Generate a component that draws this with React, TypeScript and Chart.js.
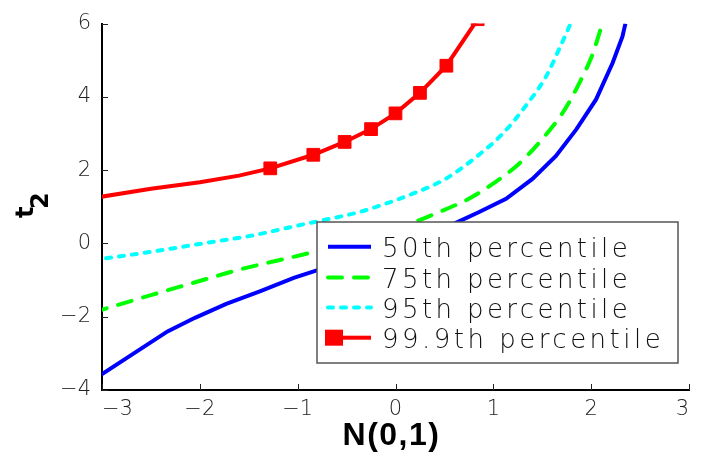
import React, { useEffect, useRef } from 'react';
import { Chart, registerables } from 'chart.js';

Chart.register(...registerables);

// ---- data ----
const seriesLabels = ['50th percentile', '75th percentile', '95th percentile', '99.9th percentile'];

const x50 = [-3.09, -2.33, -2.05, -1.73, -1.38, -1.04, -0.82, -0.5, 0, 0.3, 0.6, 0.85, 1.13, 1.4, 1.64, 1.85, 2.05, 2.22, 2.32, 2.35];
const y50 = [-3.72, -2.4, -2.03, -1.65, -1.3, -0.94, -0.75, -0.47, -0.05, 0.22, 0.54, 0.85, 1.22, 1.76, 2.39, 3.12, 3.93, 4.93, 5.65, 6.0];

const x75 = [-3.09, -2.5, -2.02, -1.62, -0.91, -0.4, 0.15, 0.44, 0.75, 0.99, 1.26, 1.5, 1.71, 1.88, 2.02, 2.1, 2.12];
const y75 = [-1.88, -1.41, -1.04, -0.73, -0.28, 0.08, 0.54, 0.85, 1.22, 1.62, 2.17, 2.85, 3.57, 4.38, 5.2, 5.87, 6.0];

const x95 = [-3.09, -2.5, -1.97, -1.5, -0.91, -0.38, -0.14, 0.17, 0.51, 0.82, 1.09, 1.33, 1.54, 1.67, 1.78, 1.79];
const y95 = [-0.45, -0.23, 0.0, 0.2, 0.54, 0.85, 1.05, 1.35, 1.76, 2.35, 2.98, 3.75, 4.56, 5.29, 5.94, 6.0];

const x999 = [-3.09, -2.5, -2.0, -1.6, -1.28, -0.84, -0.52, -0.25, 0, 0.25, 0.52, 0.84];
const y999 = [1.24, 1.49, 1.67, 1.85, 2.05, 2.42, 2.77, 3.12, 3.55, 4.11, 4.85, 6.12];
const marker999 = [false, false, false, false, true, true, true, true, true, true, true, true];

const xTickValues = [-3, -2, -1, 0, 1, 2, 3];
const yTickValues = [-4, -2, 0, 2, 4, 6];

const xTitle = 'N(0,1)';
const yTitleMain = 't';
const yTitleSub = '2';

const zip = (xs: number[], ys: number[]) => xs.map((x, i) => ({ x, y: ys[i] }));
const fmt = (v: number) => (v < 0 ? '\u2212' + Math.abs(v) : String(v));

const TICK_FONT = { family: 'DejaVu Sans', size: 21, weight: 200 as any };

const decorPlugin = {
  id: 'decor',
  afterDatasetsDraw(chart: any) {
    const { ctx, chartArea } = chart;
    // legend box
    const bx = chartArea.right - 372;
    const by = chartArea.bottom - 168;
    const bw = 361;
    const bh = 141;
    ctx.save();
    ctx.fillStyle = '#ffffff';
    ctx.fillRect(bx, by, bw, bh);
    ctx.strokeStyle = '#555555';
    ctx.lineWidth = 1.5;
    ctx.strokeRect(bx, by, bw, bh);
    const rows = [24.7, 55.5, 85.5, 115.7];
    chart.data.datasets.forEach((ds: any, i: number) => {
      const ry = by + rows[i];
      const lx0 = bx + 11;
      const lx1 = bx + 54;
      ctx.save();
      ctx.strokeStyle = ds.borderColor;
      ctx.lineWidth = ds.borderWidth;
      ctx.lineCap = ds.borderCapStyle || 'butt';
      ctx.setLineDash(ds.borderDash || []);
      ctx.beginPath();
      if (ds.pointStyle === 'rect') {
        ctx.moveTo(lx0 + 14, ry);
      } else {
        ctx.moveTo(lx0, ry);
      }
      ctx.lineTo(lx1, ry);
      ctx.stroke();
      if (ds.pointStyle === 'rect') {
        ctx.fillStyle = ds.borderColor;
        ctx.fillRect(lx0 - 3, ry - 8, 18, 16);
      }
      ctx.restore();
      // text
      ctx.save();
      ctx.font = '200 26px "DejaVu Sans"';
      ctx.fillStyle = '#111';
      ctx.textBaseline = 'alphabetic';
      ctx.textAlign = 'left';
      const label = ds.label as string;
      const w = ctx.measureText(label).width;
      const target = 16.6 * label.length;
      const sp = (target - w) / label.length;
      (ctx as any).letterSpacing = sp.toFixed(2) + 'px';
      ctx.fillText(label, bx + 65, ry + 10);
      ctx.restore();
    });
    ctx.restore();
  },
  afterDraw(chart: any) {
    const { ctx, chartArea, scales } = chart;
    ctx.save();
    // inward tick marks
    ctx.strokeStyle = '#222';
    ctx.lineWidth = 1;
    ctx.beginPath();
    scales.x.ticks.forEach((t: any) => {
      const px = Math.round(scales.x.getPixelForValue(t.value)) + 0.5;
      ctx.moveTo(px, chartArea.bottom);
      ctx.lineTo(px, chartArea.bottom - 6);
    });
    scales.y.ticks.forEach((t: any) => {
      const py = Math.round(scales.y.getPixelForValue(t.value)) + 0.5;
      ctx.moveTo(chartArea.left, py);
      ctx.lineTo(chartArea.left + 6, py);
    });
    ctx.stroke();
    // x title
    ctx.fillStyle = '#000';
    ctx.font = 'bold 32px "Liberation Sans"';
    (ctx as any).letterSpacing = '1.5px';
    ctx.textAlign = 'center';
    ctx.textBaseline = 'alphabetic';
    ctx.fillText(xTitle, (chartArea.left + chartArea.right) / 2 - 4, chartArea.bottom + 55);
    // y title
    (ctx as any).letterSpacing = '0px';
    ctx.translate(33, 218);
    ctx.rotate(-Math.PI / 2);
    ctx.textAlign = 'left';
    ctx.font = 'bold 24px "DejaVu Sans"';
    ctx.fillText(yTitleMain, 0, 0);
    ctx.fillText(yTitleSub, 9, 15);
    ctx.restore();
  },
};

export default function App() {
  const ref = useRef<HTMLCanvasElement | null>(null);
  useEffect(() => {
    document.body.style.margin = '0';
    const canvas = ref.current!;
    const chart = new Chart(canvas, {
      type: 'line',
      data: {
        datasets: [
          {
            label: seriesLabels[0],
            data: zip(x50, y50),
            borderColor: '#0000ff',
            borderWidth: 4,
            pointRadius: 0,
            tension: 0,
            clip: 0,
          },
          {
            label: seriesLabels[1],
            data: zip(x75, y75),
            borderColor: '#00ff00',
            borderWidth: 4,
            borderDash: [14, 12],
            borderCapStyle: 'round',
            pointRadius: 0,
            cubicInterpolationMode: 'monotone',
            clip: 0,
          },
          {
            label: seriesLabels[2],
            data: zip(x95, y95),
            borderColor: '#00ffff',
            borderWidth: 4,
            borderDash: [5, 8],
            borderCapStyle: 'round',
            pointRadius: 0,
            cubicInterpolationMode: 'monotone',
            clip: 0,
          },
          {
            label: seriesLabels[3],
            data: zip(x999, y999),
            borderColor: '#ff0000',
            borderWidth: 4,
            pointStyle: 'rect',
            pointRadius: (c: any) => (marker999[c.dataIndex] ? 9 : 0),
            pointBackgroundColor: '#ff0000',
            pointBorderColor: '#ff0000',
            pointBorderWidth: 1,
            tension: 0,
            clip: 0,
          },
        ] as any,
      },
      options: {
        responsive: false,
        animation: false,
        events: [],
        layout: { padding: { left: 0, top: 21, right: 28, bottom: 0 } },
        plugins: {
          legend: { display: false },
          tooltip: { enabled: false },
          title: { display: false },
        },
        scales: {
          x: {
            type: 'linear',
            min: -3,
            max: 3,
            afterFit: (s: any) => { s.height = 71; },
            afterBuildTicks: (s: any) => { s.ticks = xTickValues.map((v) => ({ value: v })); },
            grid: { display: false, drawTicks: false },
            border: { display: true, color: '#000', width: 2 },
            ticks: {
              font: TICK_FONT,
              color: '#222',
              padding: 7,
              align: 'inner',
              maxRotation: 0,
              callback: (v: any) => fmt(Number(v)),
            },
          },
          y: {
            type: 'linear',
            min: -4,
            max: 6,
            afterFit: (s: any) => { s.width = 102; },
            afterBuildTicks: (s: any) => { s.ticks = yTickValues.map((v) => ({ value: v })); },
            grid: { display: false, drawTicks: false },
            border: { display: true, color: '#000', width: 2 },
            ticks: {
              font: TICK_FONT,
              color: '#222',
              padding: 11,
              callback: (v: any) => fmt(Number(v)),
            },
          },
        },
      } as any,
      plugins: [decorPlugin],
    });
    return () => chart.destroy();
  }, []);
  return <canvas ref={ref} width={717} height={461} style={{ display: 'block', width: 717, height: 461 }} />;
}
